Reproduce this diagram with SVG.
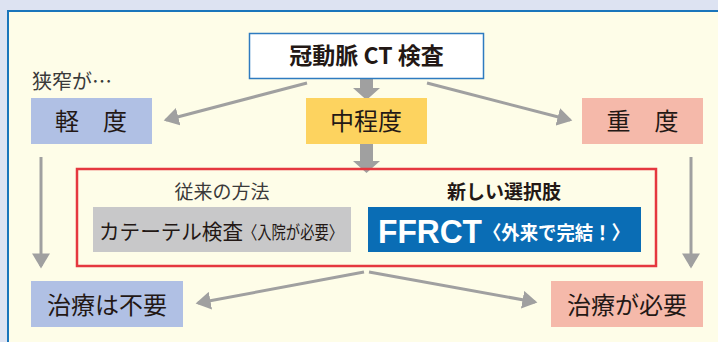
<svg xmlns="http://www.w3.org/2000/svg" width="718" height="342" viewBox="0 0 718 342">
<defs>
<style>
text{font-family:"Noto Sans CJK JP","Liberation Sans",sans-serif;fill:#231815;}
.lbl{font-size:24px;text-anchor:middle;}
.thin{stroke:#a0a0a0;stroke-width:3;fill:none;}
.head{fill:#a0a0a0;}
</style>
<marker id="ah" markerWidth="6" markerHeight="6" refX="4.2" refY="3" orient="auto" markerUnits="strokeWidth">
<path d="M0,0 L5,3 L0,6 Z" class="head"/>
</marker>
</defs>
<rect width="718" height="342" fill="#dde3f2"/>
<rect x="8" y="11" width="712" height="335" fill="#fefde8" stroke="#1a75bb" stroke-width="2"/>

<g id="connectors">
<line class="thin" x1="307" y1="83" x2="166" y2="120" marker-end="url(#ah)"/>
<line class="thin" x1="427" y1="83" x2="570" y2="120" marker-end="url(#ah)"/>
<line class="thin" x1="41" y1="157" x2="41" y2="266" marker-end="url(#ah)"/>
<line class="thin" x1="691" y1="157" x2="691" y2="266" marker-end="url(#ah)"/>
<line class="thin" x1="364" y1="272" x2="198" y2="303" marker-end="url(#ah)"/>
<line class="thin" x1="369" y1="272" x2="535" y2="302" marker-end="url(#ah)"/>
<path class="head" d="M360,79 H373 V88 H380 L366.5,100 L353,88 H360 Z"/>
<path class="head" d="M360,144 H373 V161 H380 L366.5,173 L353,161 H360 Z"/>
</g>

<g id="ct">
<rect x="249.5" y="33.5" width="234" height="45" fill="#ffffff" stroke="#2e7bc0" stroke-width="1.5"/>
<text x="366.5" y="64" font-size="23" font-weight="bold" text-anchor="middle">冠動脈 CT 検査</text>
</g>

<text x="32" y="89" font-size="20" fill="#3a3a3a" style="fill:#3a3a3a">狭窄が…</text>

<g id="mild">
<rect x="31" y="98" width="121" height="46" fill="#b0c0e4"/>
<text class="lbl" x="91" y="130">軽　度</text>
</g>
<g id="moderate">
<rect x="306" y="98" width="121" height="46" fill="#fdd35f"/>
<text class="lbl" x="366" y="130">中程度</text>
</g>
<g id="severe">
<rect x="582" y="98" width="121" height="46" fill="#f5b9aa"/>
<text class="lbl" x="642.5" y="130">重　度</text>
</g>

<g id="options">
<rect x="77" y="169" width="579" height="97" fill="none" stroke="#e5383f" stroke-width="2.5"/>
<text x="222" y="199" font-size="19" text-anchor="middle" style="fill:#3a3a3a">従来の方法</text>
<text x="504" y="199" font-size="19" font-weight="bold" text-anchor="middle">新しい選択肢</text>
</g>
<g id="catheter">
<rect x="93" y="207" width="258" height="45" fill="#c8c8c9"/>
<text x="99" y="239" font-size="21"><tspan textLength="144" lengthAdjust="spacingAndGlyphs">カテーテル検査</tspan><tspan font-size="18" textLength="100" lengthAdjust="spacingAndGlyphs">〈入院が必要〉</tspan></text>
</g>
<g id="ffrct">
<rect x="368" y="207" width="273" height="45" fill="#0a6db5"/>
<text x="378" y="243" font-size="33" font-weight="bold" style="fill:#ffffff;font-family:'Liberation Sans',sans-serif" textLength="104" lengthAdjust="spacingAndGlyphs">FFRCT</text>
<text x="483" y="240" font-size="19" font-weight="bold" style="fill:#ffffff" textLength="147" lengthAdjust="spacingAndGlyphs">〈外来で完結！〉</text>
</g>

<g id="no-treat">
<rect x="31" y="281" width="152" height="46" fill="#b0c0e4"/>
<text class="lbl" x="107" y="314" font-size="25">治療は不要</text>
</g>
<g id="treat">
<rect x="551" y="281" width="152" height="46" fill="#f5b9aa"/>
<text class="lbl" x="627" y="314" font-size="25">治療が必要</text>
</g>
</svg>
